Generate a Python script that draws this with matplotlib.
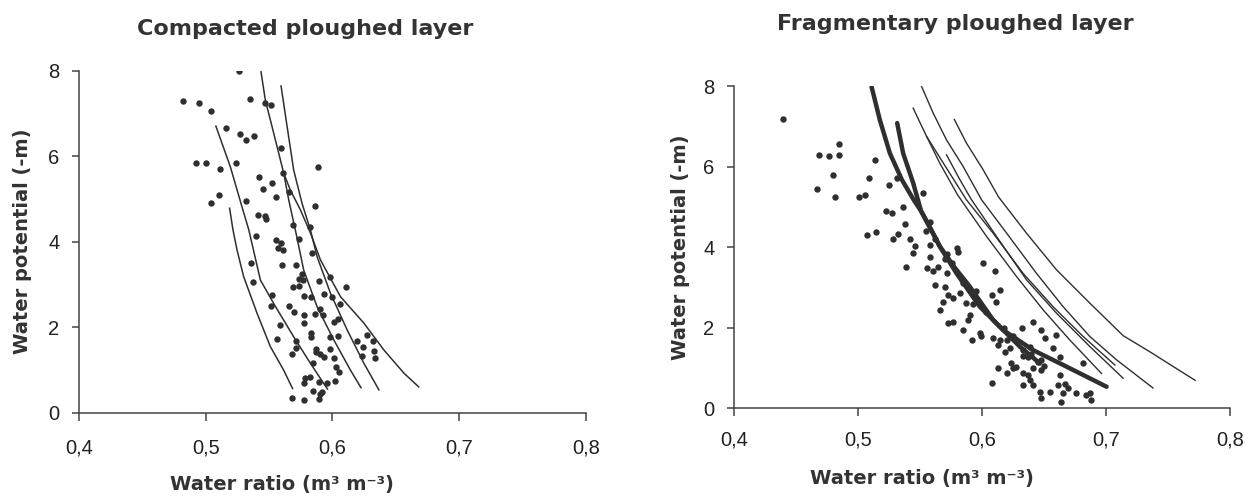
import matplotlib
matplotlib.use("Agg")
import matplotlib.pyplot as plt

plt.rcParams['font.family'] = ['Liberation Sans', 'DejaVu Sans']

INK = "#2f2f2f"

# ---------------- shared axes ----------------
x_ticks = [0.4, 0.5, 0.6, 0.7, 0.8]
x_ticklabels = ["0,4", "0,5", "0,6", "0,7", "0,8"]
y_ticks = [0, 2, 4, 6, 8]

# ---------------- Compacted ploughed layer ----------------
comp_curves = [
    ([0.5188, 0.5215, 0.5247, 0.5299, 0.5405, 0.5510, 0.5615, 0.5685],
     [4.78, 4.27, 3.80, 3.18, 2.32, 1.54, 0.99, 0.56]),
    ([0.5080, 0.5194, 0.5286, 0.5340, 0.5431, 0.5536, 0.5694, 0.5826, 0.5960],
     [6.70, 5.75, 4.81, 4.27, 3.10, 2.55, 1.77, 1.15, 0.55]),
    ([0.5436, 0.5470, 0.5523, 0.5589, 0.5615, 0.5655, 0.5707, 0.5773, 0.5879, 0.6010, 0.6142, 0.6225],
     [7.97, 7.31, 6.69, 5.91, 5.60, 4.97, 4.27, 3.33, 2.47, 1.70, 0.99, 0.58]),
    ([0.5594, 0.5642, 0.5694, 0.5760, 0.5826, 0.5879, 0.5984, 0.6116, 0.6248, 0.6366],
     [7.64, 6.69, 5.67, 4.89, 4.27, 3.64, 2.79, 1.93, 1.15, 0.53]),
    ([0.5615, 0.5668, 0.5747, 0.5826, 0.5905, 0.6063, 0.6248, 0.6406, 0.6564, 0.6680],
     [5.60, 5.20, 4.74, 4.20, 3.57, 2.71, 2.09, 1.46, 0.92, 0.60]),
]

comp_x = [0.482, 0.495, 0.5042, 0.5264, 0.5348, 0.5471, 0.5514, 0.5157, 0.5268, 0.5317,
          0.5382, 0.4925, 0.5005, 0.5116, 0.5237, 0.5039, 0.5107, 0.5314, 0.5422, 0.5520,
          0.5450, 0.5557, 0.5591, 0.5613, 0.5656, 0.5884, 0.5860, 0.5416, 0.5465, 0.5474,
          0.5397, 0.5551, 0.5594, 0.5607, 0.5573, 0.5360, 0.5375, 0.5604, 0.5687, 0.5736,
          0.5820, 0.5837, 0.5712, 0.5736, 0.5758, 0.5767, 0.5687, 0.5736, 0.5897, 0.5983,
          0.6106, 0.5773, 0.5831, 0.5934, 0.5995, 0.6063, 0.5520, 0.5511, 0.5653, 0.5696,
          0.5776, 0.5776, 0.5860, 0.5900, 0.5927, 0.6008, 0.6043, 0.5588, 0.5566, 0.5712,
          0.5715, 0.5834, 0.5834, 0.5872, 0.5869, 0.5934, 0.5977, 0.5983, 0.6008, 0.6042,
          0.6026, 0.6048, 0.6193, 0.6239, 0.6230, 0.6270, 0.6316, 0.6328, 0.6338, 0.5684,
          0.5783, 0.5773, 0.5850, 0.5903, 0.6020, 0.5891, 0.5850, 0.5903, 0.5921, 0.5958,
          0.5684, 0.5779, 0.5891, 0.5820]
comp_y = [7.28, 7.23, 7.05, 7.98, 7.33, 7.24, 7.20, 6.65, 6.51, 6.38,
          6.46, 5.83, 5.83, 5.69, 5.83, 4.91, 5.10, 4.96, 5.51, 5.36,
          5.24, 5.05, 6.18, 5.60, 5.15, 5.75, 4.83, 4.62, 4.60, 4.52,
          4.13, 4.03, 3.97, 3.81, 3.84, 3.50, 3.05, 3.44, 4.38, 4.05,
          4.34, 3.74, 3.46, 3.13, 3.23, 3.11, 2.94, 2.95, 3.07, 3.17,
          2.94, 2.72, 2.70, 2.78, 2.70, 2.54, 2.74, 2.49, 2.50, 2.34,
          2.29, 2.10, 2.31, 2.43, 2.27, 2.11, 2.19, 2.05, 1.71, 1.68,
          1.51, 1.86, 1.76, 1.49, 1.41, 1.29, 1.76, 1.49, 1.28, 1.80,
          1.06, 0.94, 1.67, 1.53, 1.33, 1.82, 1.67, 1.43, 1.28, 1.37,
          0.80, 0.68, 1.17, 1.37, 0.74, 0.72, 0.51, 0.43, 0.49, 0.68,
          0.34, 0.29, 0.31, 0.84]

# ---------------- Fragmentary ploughed layer ----------------
frag_thick = [
    ([0.5110, 0.5177, 0.5258, 0.5355, 0.5450, 0.5510, 0.5580, 0.5661, 0.5796, 0.5984, 0.6172, 0.6414, 0.6683, 0.7006],
     [8.00, 7.17, 6.34, 5.68, 5.18, 4.90, 4.50, 4.02, 3.35, 2.52, 1.94, 1.44, 1.03, 0.53]),
    ([0.5317, 0.5365, 0.5446, 0.5510, 0.5580, 0.5661, 0.5780, 0.5903, 0.6091, 0.6306, 0.6468],
     [7.09, 6.34, 5.60, 4.90, 4.50, 4.02, 3.50, 3.02, 2.19, 1.53, 1.11]),
]
frag_thin = [
    ([0.5514, 0.5607, 0.5715, 0.5849, 0.5998, 0.6200, 0.6441, 0.6656, 0.6871, 0.7086, 0.7380],
     [8.00, 7.34, 6.67, 6.01, 5.18, 4.35, 3.35, 2.52, 1.78, 1.20, 0.50]),
    ([0.5778, 0.5876, 0.6010, 0.6135, 0.6360, 0.6602, 0.6871, 0.7140, 0.7355, 0.7550, 0.7720],
     [7.18, 6.59, 5.93, 5.25, 4.35, 3.44, 2.61, 1.80, 1.40, 1.02, 0.69]),
    ([0.5446, 0.5554, 0.5661, 0.5805, 0.6038, 0.6280, 0.6495, 0.6710, 0.6965],
     [7.46, 6.76, 6.09, 5.30, 4.27, 3.27, 2.44, 1.69, 0.86]),
    ([0.5554, 0.5690, 0.5876, 0.6091, 0.6333, 0.6575, 0.6817, 0.7073],
     [6.76, 6.09, 5.18, 4.35, 3.35, 2.52, 1.78, 1.07]),
    ([0.5715, 0.5823, 0.5917, 0.6118, 0.6360, 0.6602, 0.6871, 0.7140],
     [6.30, 5.68, 5.18, 4.27, 3.19, 2.36, 1.53, 0.74]),
]

frag_x = [0.4393, 0.4688, 0.4769, 0.4850, 0.4850, 0.4801, 0.4667, 0.4815, 0.5008, 0.5056,
          0.5091, 0.5137, 0.5312, 0.5250, 0.5527, 0.5223, 0.5277, 0.5360, 0.5581, 0.5715,
          0.5070, 0.5150, 0.5379, 0.5325, 0.5285, 0.5419, 0.5460, 0.5446, 0.5581, 0.5581,
          0.5392, 0.5554, 0.5607, 0.5648, 0.5715, 0.5621, 0.5701, 0.5796, 0.5809, 0.5822,
          0.5728, 0.5769, 0.5688, 0.5661, 0.5903, 0.5876, 0.5890, 0.5728, 0.5769, 0.5849,
          0.6011, 0.6105, 0.6078, 0.6145, 0.6118, 0.5984, 0.5997, 0.5917, 0.6091, 0.6145,
          0.6199, 0.6132, 0.6185, 0.6226, 0.6279, 0.6320, 0.6414, 0.6481, 0.6508, 0.6602,
          0.6575, 0.6629, 0.6387, 0.6333, 0.6374, 0.6279, 0.6239, 0.6132, 0.6199, 0.6253,
          0.6333, 0.6374, 0.6414, 0.6481, 0.6629, 0.6669, 0.6616, 0.6696, 0.6656, 0.6642,
          0.6763, 0.6844, 0.6884, 0.6871, 0.6078, 0.6333, 0.6414, 0.6387, 0.6468, 0.6548,
          0.6481, 0.6817, 0.5850, 0.5950, 0.6030, 0.6180, 0.6250, 0.6330, 0.6450, 0.6500,
          0.6480, 0.6400, 0.5550, 0.5620, 0.5700, 0.5760, 0.5930]
frag_y = [7.20, 6.30, 6.26, 6.57, 6.30, 5.80, 5.46, 5.26, 5.26, 5.30,
          5.72, 6.16, 5.72, 5.54, 5.35, 4.91, 4.85, 4.99, 4.64, 3.84,
          4.31, 4.39, 4.58, 4.33, 4.20, 4.20, 4.02, 3.85, 3.77, 4.06,
          3.52, 3.48, 3.40, 3.52, 3.35, 3.06, 3.02, 3.98, 3.89, 2.86,
          2.81, 2.73, 2.65, 2.44, 2.32, 2.61, 2.19, 2.11, 2.15, 1.94,
          3.60, 3.40, 2.81, 2.94, 2.65, 1.86, 1.78, 1.69, 1.73, 1.69,
          1.69, 1.57, 1.40, 1.49, 1.69, 1.98, 2.15, 1.94, 1.73, 1.82,
          1.49, 1.28, 1.53, 1.44, 1.28, 1.03, 1.11, 0.99, 0.86, 0.99,
          0.86, 0.82, 0.99, 0.95, 0.82, 0.61, 0.57, 0.49, 0.37, 0.16,
          0.37, 0.32, 0.20, 0.37, 0.63, 0.57, 0.57, 0.70, 0.41, 0.41,
          0.24, 1.11, 3.10, 2.90, 2.40, 2.00, 1.80, 1.30, 1.15, 1.05,
          1.20, 1.35, 4.40, 4.20, 3.70, 3.60, 2.60]

BOLD = dict(family=["DejaVu Sans"], fontweight="bold", color="#333333")


def style_axes(ax, xpad):
    ax.set_xlim(0.4, 0.8)
    ax.set_ylim(0, 8)
    ax.set_xticks(x_ticks)
    ax.set_xticklabels(x_ticklabels)
    ax.set_yticks(y_ticks)
    for s in ("top", "right"):
        ax.spines[s].set_visible(False)
    for s in ("left", "bottom"):
        ax.spines[s].set_color("#444444")
        ax.spines[s].set_linewidth(1.1)
    ax.tick_params(axis="x", direction="out", length=6, width=1.1, color="#444444",
                   labelsize=14.5, pad=xpad, labelcolor="#222222")
    ax.tick_params(axis="y", direction="out", length=5, width=1.1, color="#444444",
                   labelsize=14.5, pad=9, labelcolor="#222222")


fig = plt.figure(figsize=(12.46, 4.97), dpi=100)
ax1 = fig.add_axes([0.0634, 0.170, 0.4069, 0.688])
ax2 = fig.add_axes([0.589, 0.179, 0.398, 0.647])

for cx, cy in comp_curves:
    ax1.plot(cx, cy, color=INK, lw=1.1)
ax1.plot(comp_x, comp_y, "o", color=INK, ms=4.6, mec="none")

for cx, cy in frag_thin:
    ax2.plot(cx, cy, color=INK, lw=1.0)
for cx, cy in frag_thick:
    ax2.plot(cx, cy, color=INK, lw=3.2, solid_capstyle="round")
ax2.plot(frag_x, frag_y, "o", color=INK, ms=4.6, mec="none")

style_axes(ax1, 13)
style_axes(ax2, 10)
for ax in (ax1, ax2):
    ax.set_ylabel("Water potential (-m)", fontsize=14, **BOLD)
    ax.set_xlabel("Water ratio (m³ m⁻³)", fontsize=14, **BOLD)

ax1.yaxis.set_label_coords(-0.093, 0.5)
ax1.xaxis.set_label_coords(0.40, -0.183)
ax2.yaxis.set_label_coords(-0.089, 0.5)
ax2.xaxis.set_label_coords(0.38, -0.19)

fig.text(305 / 1246, 1 - 29 / 497, "Compacted ploughed layer", ha="center", va="center",
         fontsize=16, **BOLD)
fig.text(955 / 1246, 1 - 24 / 497, "Fragmentary ploughed layer", ha="center", va="center",
         fontsize=16, **BOLD)

fig.savefig("out.png", dpi=100)
